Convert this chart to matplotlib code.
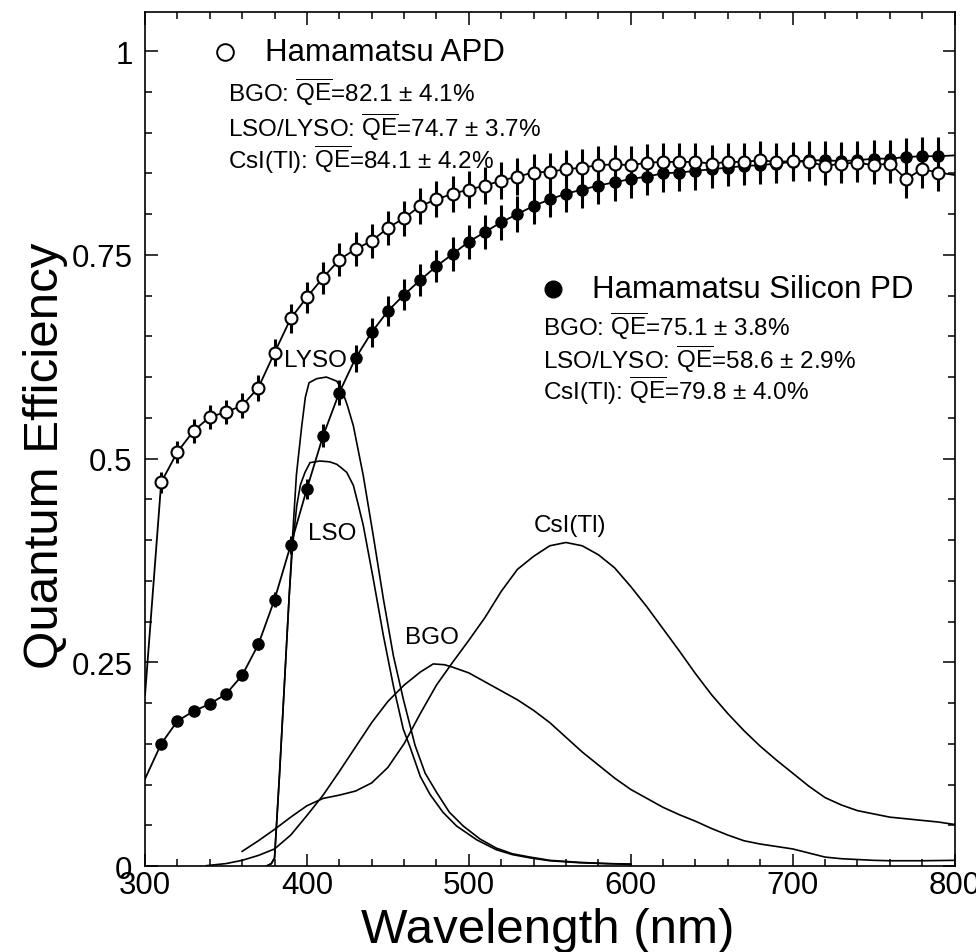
import numpy as np
import matplotlib
matplotlib.use("Agg")
import matplotlib.pyplot as plt
from matplotlib.ticker import MultipleLocator, FuncFormatter

plt.rcParams['font.family'] = ['Liberation Sans', 'DejaVu Sans']
plt.rcParams['mathtext.fontset'] = 'custom'
plt.rcParams['mathtext.rm'] = 'Liberation Sans'
plt.rcParams['mathtext.it'] = 'Liberation Sans:italic'
plt.rcParams['mathtext.bf'] = 'Liberation Sans:bold'

# ---- photodetector quantum efficiency (measured every 10 nm) ----
qe_wavelength = np.arange(310, 800, 10)
apd_qe = [0.471, 0.508, 0.534, 0.551, 0.557, 0.565, 0.587, 0.630, 0.672, 0.698,
          0.722, 0.744, 0.757, 0.767, 0.783, 0.795, 0.810, 0.818, 0.825, 0.830,
          0.835, 0.841, 0.846, 0.851, 0.852, 0.855, 0.857, 0.860, 0.861, 0.860,
          0.863, 0.864, 0.864, 0.864, 0.862, 0.864, 0.864, 0.866, 0.864, 0.865,
          0.864, 0.859, 0.862, 0.863, 0.860, 0.862, 0.843, 0.855, 0.851]
pd_qe = [0.150, 0.178, 0.190, 0.199, 0.211, 0.234, 0.272, 0.327, 0.394, 0.463,
         0.528, 0.581, 0.623, 0.655, 0.681, 0.701, 0.719, 0.736, 0.751, 0.766,
         0.778, 0.790, 0.800, 0.810, 0.818, 0.825, 0.830, 0.835, 0.839, 0.843,
         0.846, 0.850, 0.851, 0.853, 0.855, 0.857, 0.859, 0.860, 0.862, 0.864,
         0.866, 0.866, 0.865, 0.866, 0.868, 0.868, 0.870, 0.871, 0.871]
qe_rel_error = 0.027

# curve end points at the frame edges (300 nm and 800 nm)
edge_wavelength = [300, 800]
apd_edge_qe = [0.21, 0.848]
pd_edge_qe = [0.107, 0.872]

# ---- scintillator emission spectra (arbitrary units) ----
lyso_wl = [375, 378, 380, 383, 386, 389, 391, 393.5, 396.8, 399, 401.3, 406, 412,
           418.4, 421.5, 425, 428.7, 434.8, 441, 447.2, 453.4, 459.5, 466.8, 473,
           480.2, 488, 496.6, 507, 517, 527, 537.8, 550, 568.7, 585, 600]
lyso_em = [0.0, 0.003, 0.01, 0.11, 0.22, 0.33, 0.40, 0.48, 0.54, 0.575, 0.593,
           0.598, 0.600, 0.595, 0.585, 0.565, 0.540, 0.479, 0.405, 0.328, 0.258,
           0.205, 0.148, 0.114, 0.090, 0.066, 0.049, 0.033, 0.022, 0.015, 0.011,
           0.007, 0.0045, 0.003, 0.0025]

lso_wl = [375, 378, 380, 383, 386, 389, 391, 393.7, 396, 398.8, 401.9, 408, 414,
          418.4, 421, 424.6, 428.7, 431.5, 434.8, 441, 447.2, 453.4, 459.5, 463.7,
          470, 476, 484, 492.5, 505, 517, 527, 537.8, 550, 568.7, 585, 600]
lso_em = [0.0, 0.003, 0.01, 0.11, 0.22, 0.33, 0.39, 0.442, 0.468, 0.483, 0.495,
          0.497, 0.496, 0.493, 0.489, 0.483, 0.467, 0.445, 0.418, 0.352, 0.283,
          0.221, 0.168, 0.146, 0.110, 0.088, 0.066, 0.049, 0.032, 0.020, 0.014,
          0.010, 0.0065, 0.004, 0.003, 0.002]

bgo_wl = [338, 350, 360, 370, 380, 390, 400, 410, 420, 430, 440, 450, 460, 470,
          478, 485, 490, 500, 510, 520, 530, 540, 550, 560, 570, 580, 590, 600,
          610, 620, 630, 640, 650, 660, 670, 680, 690, 700, 710, 720, 730, 740,
          750, 760, 780, 800]
bgo_em = [0.0005, 0.003, 0.007, 0.013, 0.021, 0.038, 0.062, 0.087, 0.116, 0.146,
          0.176, 0.202, 0.222, 0.238, 0.248, 0.247, 0.244, 0.237, 0.226, 0.215,
          0.204, 0.191, 0.176, 0.158, 0.140, 0.124, 0.108, 0.094, 0.083, 0.072,
          0.063, 0.055, 0.046, 0.038, 0.031, 0.027, 0.024, 0.021, 0.016, 0.011,
          0.009, 0.008, 0.007, 0.0065, 0.0065, 0.007]

csi_wl = [360, 370, 380, 390, 400, 410, 420, 430, 440, 450, 460, 470, 480, 490,
          500, 510, 520, 530, 540, 550, 560, 570, 580, 590, 600, 610, 620, 630,
          640, 650, 660, 670, 680, 690, 700, 710, 720, 730, 740, 750, 760, 770,
          780, 790, 800]
csi_em = [0.018, 0.031, 0.045, 0.060, 0.074, 0.083, 0.087, 0.092, 0.102, 0.121,
          0.150, 0.187, 0.222, 0.250, 0.277, 0.305, 0.337, 0.364, 0.380, 0.393,
          0.397, 0.393, 0.382, 0.366, 0.343, 0.318, 0.291, 0.264, 0.236, 0.210,
          0.187, 0.166, 0.147, 0.130, 0.114, 0.098, 0.084, 0.075, 0.068, 0.064,
          0.060, 0.058, 0.056, 0.054, 0.051]

apd_lines = [r'BGO: $\overline{\mathrm{QE}}$=82.1 ± 4.1%',
             r'LSO/LYSO: $\overline{\mathrm{QE}}$=74.7 ± 3.7%',
             r'CsI(Tl): $\overline{\mathrm{QE}}$=84.1 ± 4.2%']
pd_lines = [r'BGO: $\overline{\mathrm{QE}}$=75.1 ± 3.8%',
            r'LSO/LYSO: $\overline{\mathrm{QE}}$=58.6 ± 2.9%',
            r'CsI(Tl): $\overline{\mathrm{QE}}$=79.8 ± 4.0%']

fig = plt.figure(figsize=(9.76, 9.53), dpi=100)
ax = fig.add_axes([0.1486, 0.0902, 0.8294, 0.8962])
ax.set_xlim(300, 800)
ax.set_ylim(0, 1.048)

# emission spectra
for wl, em in [(lyso_wl, lyso_em), (lso_wl, lso_em), (bgo_wl, bgo_em), (csi_wl, csi_em)]:
    ax.plot(wl, em, color='black', lw=1.2, zorder=2, solid_joinstyle='round')

# QE curves
apd = np.array(apd_qe)
pd_ = np.array(pd_qe)
apd_curve_x = np.concatenate([[edge_wavelength[0]], qe_wavelength, [edge_wavelength[1]]])
apd_curve_y = np.concatenate([[apd_edge_qe[0]], apd, [apd_edge_qe[1]]])
pd_curve_y = np.concatenate([[pd_edge_qe[0]], pd_, [pd_edge_qe[1]]])
ax.plot(apd_curve_x, apd_curve_y, color='black', lw=1.3, zorder=3)
ax.plot(apd_curve_x, pd_curve_y, color='black', lw=1.3, zorder=3)

ax.errorbar(qe_wavelength, pd_, yerr=qe_rel_error * pd_, fmt='o', color='black',
            ms=8, elinewidth=2.2, capsize=0, zorder=4)
ax.errorbar(qe_wavelength, apd, yerr=qe_rel_error * apd, fmt='o', mfc='white',
            mec='black', mew=1.5, ms=8.6, ecolor='black', elinewidth=2.2,
            capsize=0, zorder=5)

# spectrum labels
label_fs = 17.5
ax.text(405, 0.621, 'LYSO', fontsize=label_fs, ha='center', va='center')
ax.text(415.3, 0.409, 'LSO', fontsize=label_fs, ha='center', va='center')
ax.text(477.1, 0.281, 'BGO', fontsize=label_fs, ha='center', va='center')
ax.text(562.5, 0.418, 'CsI(Tl)', fontsize=label_fs, ha='center', va='center')

# detector annotations
title_fs = 22.5
ax.plot([349.4], [0.999], 'o', mfc='white', mec='black', mew=1.4, ms=12)
ax.text(374.1, 0.999, 'Hamamatsu APD', fontsize=title_fs, va='center')
for txt, yy in zip(apd_lines, [0.950, 0.908, 0.868]):
    ax.text(351.1, yy, txt, fontsize=label_fs, va='center')

ax.plot([552.1], [0.708], 'o', color='black', ms=12)
ax.text(575.9, 0.708, 'Hamamatsu Silicon PD', fontsize=title_fs, va='center')
for txt, yy in zip(pd_lines, [0.663, 0.623, 0.584]):
    ax.text(545.6, yy, txt, fontsize=label_fs, va='center')

# axes styling
ax.xaxis.set_major_locator(MultipleLocator(100))
ax.xaxis.set_minor_locator(MultipleLocator(20))
ax.yaxis.set_major_locator(MultipleLocator(0.25))
ax.yaxis.set_minor_locator(MultipleLocator(0.05))
ax.yaxis.set_major_formatter(FuncFormatter(lambda v, p: f'{v:g}'))
ax.tick_params(which='both', direction='in', top=True, right=True, width=1.1)
ax.tick_params(which='major', length=9)
ax.tick_params(which='minor', length=5)
ax.tick_params(axis='x', which='major', labelsize=22.5, pad=3)
ax.tick_params(axis='y', which='major', labelsize=22.5, pad=9)
for s in ax.spines.values():
    s.set_linewidth(1.2)

fig.text(548 / 976, 1 - 943 / 953, 'Wavelength (nm)', fontsize=35.5,
         ha='center', va='baseline')
fig.text(46 / 976, 1 - 456 / 953, 'Quantum Efficiency', fontsize=35.5,
         ha='center', va='center', rotation=90)

fig.savefig('out.png', dpi=100)
